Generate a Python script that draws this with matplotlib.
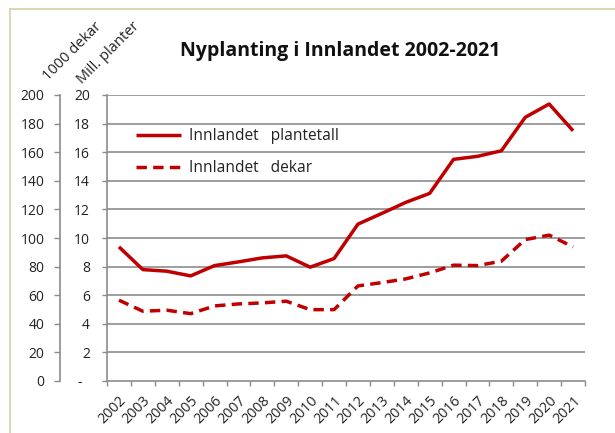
import matplotlib
matplotlib.use("Agg")
import matplotlib.pyplot as plt
from matplotlib.lines import Line2D

years = ["2002", "2003", "2004", "2005", "2006", "2007", "2008", "2009", "2010", "2011",
         "2012", "2013", "2014", "2015", "2016", "2017", "2018", "2019", "2020", "2021"]
plantetall = [9.38, 7.79, 7.68, 7.35, 8.07, 8.33, 8.61, 8.75, 7.96, 8.56,
              10.97, 11.72, 12.49, 13.12, 15.50, 15.71, 16.10, 18.44, 19.37, 17.50]
dekar = [56.5, 48.8, 49.5, 47.1, 52.5, 53.9, 54.6, 55.8, 49.9, 49.9,
         66.5, 68.8, 71.4, 75.6, 81.0, 80.7, 83.8, 98.9, 102.0, 93.8]
inner_ticks = [0, 2, 4, 6, 8, 10, 12, 14, 16, 18, 20]
inner_labels = ["-  ", "2", "4", "6", "8", "10", "12", "14", "16", "18", "20"]
outer_ticks = [0, 20, 40, 60, 80, 100, 120, 140, 160, 180, 200]

plt.rcParams['font.family'] = ['Open Sans', 'DejaVu Sans']

W, H = 615, 433
fig = plt.figure(figsize=(W / 100, H / 100), dpi=100)
red = "#C00000"
grid_c = "#8C8C8C"
txt_c = "#222222"

# border lines
fig.add_artist(Line2D([10 / W, 10 / W], [0, 1 - 9 / H], color="#D8CFA8", lw=1.2, transform=fig.transFigure))
fig.add_artist(Line2D([10 / W, 1], [1 - 9 / H, 1 - 9 / H], color="#D8CFA8", lw=1.2, transform=fig.transFigure))

left, right, top, bottom = 107, 585, 95, 381
ax = fig.add_axes([left / W, 1 - bottom / H, (right - left) / W, (bottom - top) / H])

x = list(range(len(years)))
ax.plot(x, plantetall, color=red, lw=2.5, solid_capstyle='butt', label="Innlandet   plantetall")
ax.plot(x, [d / 10 for d in dekar], color=red, lw=2.5, ls=(0, (3, 1.8)), label="Innlandet   dekar")

ax.set_xlim(-0.5, len(years) - 0.5)
ax.set_ylim(0, 20)
ax.set_yticks(inner_ticks)
ax.set_yticklabels(inner_labels, fontsize=10, color=txt_c)
ax.tick_params(axis='y', length=3.6, color=grid_c, width=1, pad=8.6)
for t in inner_ticks[1:]:
    ax.axhline(t, color=grid_c, lw=1.2, zorder=0)

ax.set_xticks([i - 0.5 for i in range(len(years) + 1)])
ax.set_xticklabels([])
ax.tick_params(axis='x', which='major', length=3.8, color=grid_c, width=1)
ax.set_xticks(x, minor=True)
ax.set_xticklabels(years, minor=True, rotation=45, ha='right', va='top',
                   rotation_mode='anchor', fontsize=10.3, color=txt_c)
ax.tick_params(axis='x', which='minor', length=0, pad=9)

for s in ['top', 'right']:
    ax.spines[s].set_visible(False)
for s in ['left', 'bottom']:
    ax.spines[s].set_color(grid_c)
    ax.spines[s].set_linewidth(1.2)

# outer axis (1000 dekar)
outer_x = 60
ax2 = fig.add_axes([outer_x / W, 1 - bottom / H, 1 / W, (bottom - top) / H])
ax2.set_ylim(0, 200)
ax2.set_xticks([])
ax2.set_yticks(outer_ticks)
ax2.tick_params(axis='y', length=4, color=grid_c, width=1, labelsize=10, labelcolor=txt_c, pad=7.3)
ax2.patch.set_visible(False)
for s in ['top', 'right', 'bottom']:
    ax2.spines[s].set_visible(False)
ax2.spines['left'].set_color(grid_c)
ax2.spines['left'].set_linewidth(1.2)

leg = ax.legend(loc='upper left', bbox_to_anchor=((136 - left) / (right - left), (bottom - 128) / (bottom - top)),
                frameon=False, fontsize=11.2, borderaxespad=0, borderpad=0,
                handlelength=2.9, labelspacing=1.05, handletextpad=0.51)
for t in leg.get_texts():
    t.set_color(txt_c)

fig.text(340.5 / W, 1 - 56 / H, "Nyplanting i Innlandet 2002-2021", ha='center', va='baseline',
         fontsize=14, fontweight='bold', color="#111111")
fig.text(72 / W, 1 - 52 / H, "1000 dekar", rotation=45, ha='center', va='center', fontsize=10.5, color=txt_c)
fig.text(108 / W, 1 - 53 / H, "Mill. planter", rotation=45, ha='center', va='center', fontsize=10.5, color=txt_c)

fig.savefig("out.png", dpi=100)
